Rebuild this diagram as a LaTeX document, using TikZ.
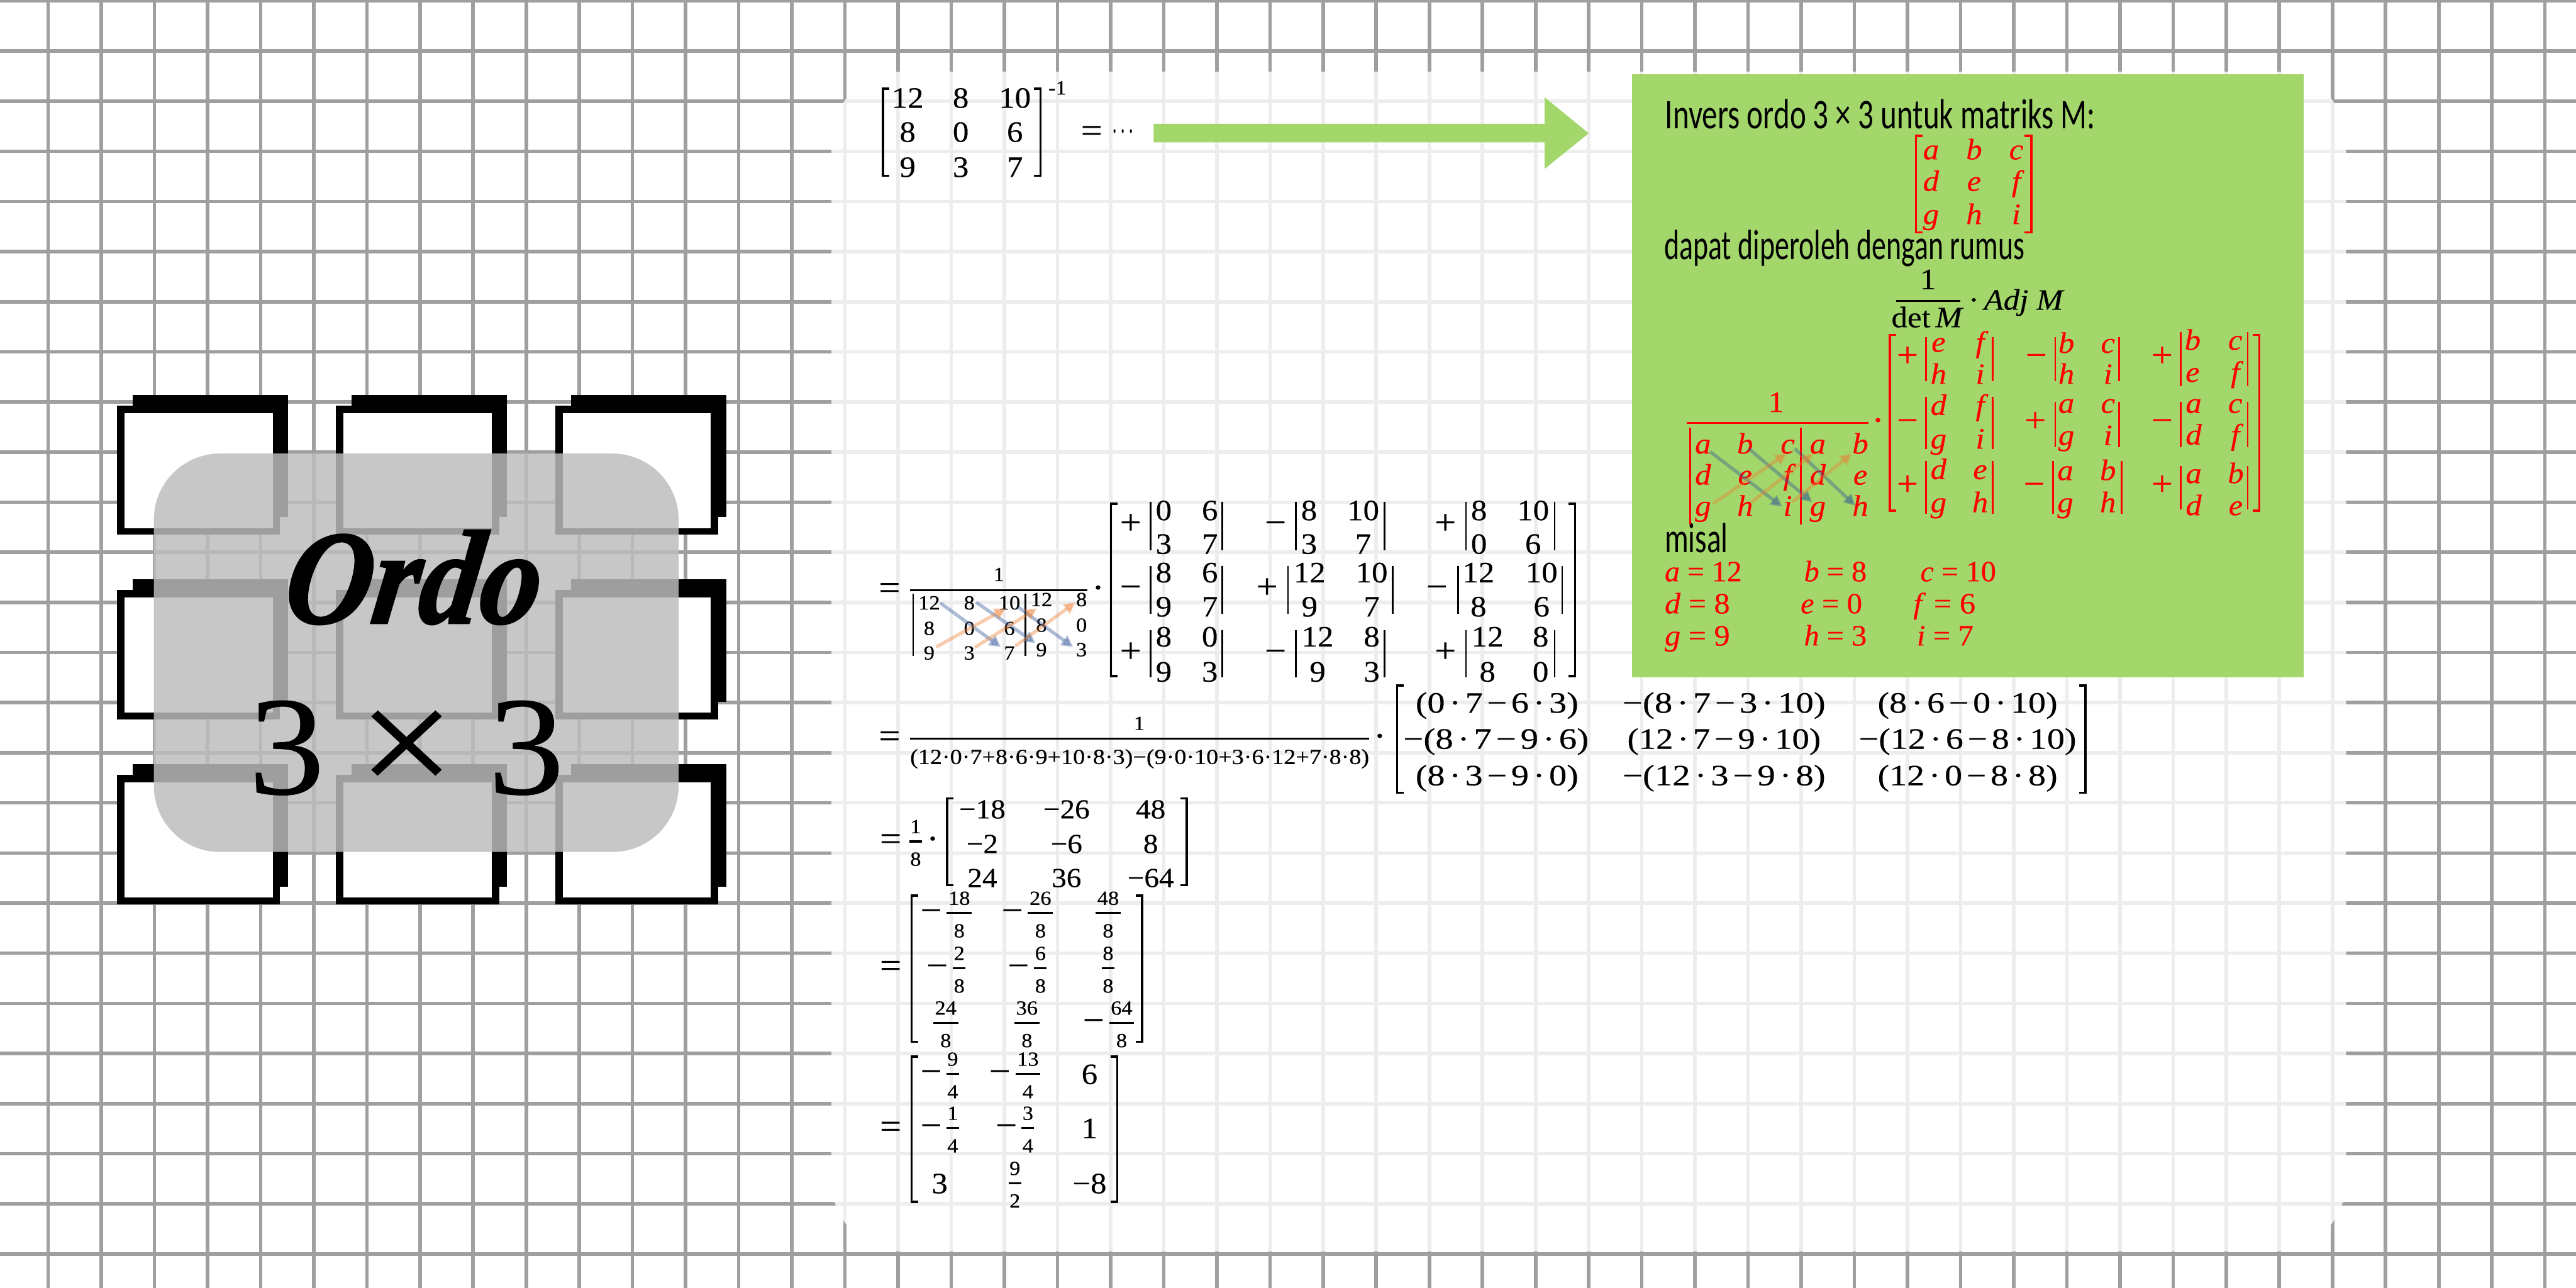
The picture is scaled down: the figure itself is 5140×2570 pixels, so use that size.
\documentclass[tikz,border=0pt]{standalone}
\usepackage{fontspec}
\usepackage{graphicx}
\usetikzlibrary{arrows.meta}
\setmainfont[FakeStretch=1.08,FakeBold=0.35]{Liberation Serif}
\newfontfamily\handf{Carlito}
\newfontface\ordof[FakeSlant=0.15,FakeBold=1.5]{Liberation Serif Bold Italic}
\newdimen\pxu \pxu=.28453pt
\newcommand\fa{\fontsize{16.8}{20}\selectfont}
\newcommand\fb{\fontsize{11.4}{14}\selectfont}
\newcommand\fc{\fontsize{12.2}{15}\selectfont}
\newcommand\fd{\fontsize{15.6}{18}\selectfont}
\newcommand\fh{\fontsize{24}{28}\selectfont}
\newcommand\fs{\fontsize{20}{24}\selectfont}
\newcommand\W[2]{\resizebox{#1\pxu}{\height}{#2}}
\definecolor{gridc}{RGB}{160,158,159}
\definecolor{leaf}{RGB}{163,215,107}
\definecolor{tilec}{RGB}{189,189,189}
\definecolor{abl}{RGB}{47,85,151}
\definecolor{aor}{RGB}{237,125,49}
\newcounter{tn}
% text node: #1 style, #2 x, #3 y, #4 text
\newcommand\T[4][ent]{\stepcounter{tn}\node[#1] (t\arabic{tn}) at (#2,#3) {#4};}
\newcommand\Four[8]{\T{#1}{#3}{#5}\T{#2}{#3}{#6}\T{#1}{#4}{#7}\T{#2}{#4}{#8}}
\newcommand\Row[7]{\T{#2}{#1}{#5}\T{#3}{#1}{#6}\T{#4}{#1}{#7}}
\newcommand\Bars[4]{\draw[barl] (#1,#3) -- (#1,#4) (#2,#3) -- (#2,#4);}
\newcommand\Brk[4]{\draw[brkl] (#1+13,#3) -- (#1,#3) -- (#1,#4) -- (#1+13,#4) (#2-13,#3) -- (#2,#3) -- (#2,#4) -- (#2-13,#4);}
\newcommand\Fr[5]{\T[tB]{#1}{#2-30}{#3}\T[tB]{#1}{#2+35}{#4}\draw[fracl] (#1-#5/2,#2) -- (#1+#5/2,#2);}
\newcommand\SqB[2]{%
  \fill[black] (265+#1,788+#2) rectangle (575+#1,1032+#2);
  \fill[black] (233+#1,809+#2) rectangle (559+#1,1067+#2);
  \fill[white] (248+#1,824+#2) rectangle (544+#1,1053.5+#2);}
\tikzset{
  gridl/.style={gridc,line width=2pt},
  barl/.style={line width=1pt},
  brkl/.style={line width=1.2pt},
  fracl/.style={line width=1.1pt},
  tA/.style={font=\fa,inner sep=0pt,text height=11.38pt,text depth=0pt},
  tB/.style={font=\fb,inner sep=0pt,text height=7.68pt,text depth=0pt},
  tD/.style={font=\fd,inner sep=0pt,text height=10.5pt,text depth=0pt},
  sg/.style={font=\fs,inner sep=0pt,text height=10pt,text depth=0pt},
  lf/.style={tA,anchor=west},
  hw/.style={font=\fh\handf,inner sep=0pt,anchor=west},
  ent/.style={tA},
  bar/.style={-{Triangle[length=6.5pt,width=6.5pt]},line width=1.9pt,abl,opacity=.4},
  oar/.style={-{Triangle[length=6.5pt,width=6.5pt]},line width=1.9pt,aor,opacity=.4},
}
\newcommand\dt{\kern.13em·\kern.13em}
\newcommand\mn{\kern.13em−\kern.13em}
\begin{document}
\begin{tikzpicture}[x=.28453pt,y=-.28453pt]
\useasboundingbox (0,0) rectangle (5140,2570);
\fill[white] (0,0) rectangle (5140,2570);
% grid
\foreach \k in {0,...,47} \draw[gridl] ({96+106*\k},0) -- ({96+106*\k},2570);
\foreach \k in {0,...,25} \draw[gridl] (0,{2+100*\k}) -- (5140,{2+100*\k});
% tiles
\foreach \dx in {0,437,874.5} \foreach \dy in {0,368,737} {\SqB{\dx}{\dy}}
\fill[tilec,opacity=.84,rounded corners=132\pxu] (307,905) rectangle (1354,1700);
\node[inner sep=0pt] (ordo) at (816,1152) {\fontsize{76}{84}\selectfont\W{510}{\ordof Ordo}};
\node[inner sep=0pt,font=\fontsize{80}{90}\selectfont,text height=53.5pt,text depth=0pt] (three1) at (572,1490) {3};
\node[inner sep=0pt,font=\fontsize{90}{100}\selectfont] (times) at (811,1503) {×};
\node[inner sep=0pt,font=\fontsize{80}{90}\selectfont,text height=53.5pt,text depth=0pt] (three2) at (1050,1490) {3};
% panel
\fill[white,opacity=.82,rounded corners=140\pxu] (1659,143) rectangle (4681,2497);
% green box and arrow
\fill[leaf] (3256,148) rectangle (4596,1351);
\fill[leaf] (2302,247) -- (3082,247) -- (3082,194) -- (3170,266) -- (3082,337) -- (3082,284) -- (2302,284) -- cycle;
% top matrix
\Brk{1762}{2076}{177}{351}
\Row{195}{1811}{1917}{2025}{12}{8}{10}
\Row{263}{1811}{1917}{2025}{8}{0}{6}
\Row{333}{1811}{1917}{2025}{9}{3}{7}
\T[tB]{2110}{175}{-1}
\T[sg]{2178}{266}{=}
\T[sg]{2241}{263}{\W{44}{$\cdots$}}
% line B
\T[sg]{1775}{1178}{=}
\draw[fracl] (1816,1178) -- (2170,1178);
\T[tB]{1993}{1146}{1}
\Bars{1822}{2046}{1184}{1309}
\Row{1196}{1854}{1934}{2014}{\fb 12}{\fb 8}{\fb 10}
\T[tB]{2078}{1196}{12}\T[tB]{2158}{1196}{8}
\Row{1247}{1854}{1934}{2014}{\fb 8}{\fb 0}{\fb 6}
\T[tB]{2078}{1247}{8}\T[tB]{2158}{1247}{0}
\Row{1296}{1854}{1934}{2014}{\fb 9}{\fb 3}{\fb 7}
\T[tB]{2078}{1296}{9}\T[tB]{2158}{1296}{3}
\draw[bar] (1876,1203) -- (1997,1291);
\draw[bar] (1948,1202) -- (2066,1283);
\draw[bar] (2031,1211) -- (2141,1291);
\draw[oar] (1868,1291) -- (2007,1214);
\draw[oar] (1945,1292) -- (2069,1214);
\draw[oar] (2026,1289) -- (2146,1202);
\T[sg]{2191}{1178}{·}
\Brk{2217}{3143}{1005}{1349}
\T[sg]{2256}{1048}{+}\T[sg]{2256}{1176}{−}\T[sg]{2256}{1304}{+}
\T[sg]{2545}{1048}{−}\T[sg]{2528}{1176}{+}\T[sg]{2545}{1304}{−}
\T[sg]{2884}{1048}{+}\T[sg]{2867}{1176}{−}\T[sg]{2884}{1304}{+}
\Bars{2296}{2439}{1001}{1098}\Four{2322}{2414}{1018}{1085}{0}{6}{3}{7}
\Bars{2586}{2763}{1001}{1098}\Four{2612}{2720}{1018}{1085}{8}{10}{3}{7}
\Bars{2925}{3102}{1001}{1098}\Four{2951}{3059}{1018}{1085}{8}{10}{0}{6}
\Bars{2296}{2439}{1129}{1225}\Four{2322}{2414}{1142}{1210}{8}{6}{9}{7}
\Bars{2570}{2779}{1129}{1225}\Four{2613}{2737}{1142}{1210}{12}{10}{9}{7}
\Bars{2909}{3117}{1129}{1225}\Four{2950}{3076}{1142}{1210}{12}{10}{8}{6}
\Bars{2296}{2439}{1257}{1352}\Four{2322}{2414}{1270}{1340}{8}{0}{9}{3}
\Bars{2586}{2763}{1257}{1352}\Four{2629}{2737}{1270}{1340}{12}{8}{9}{3}
\Bars{2925}{3102}{1257}{1352}\Four{2968}{3074}{1270}{1340}{12}{8}{8}{0}
% line C
\T[sg]{1775}{1474}{=}
\draw[fracl] (1816,1474) -- (2732,1474);
\T[tB]{2273}{1443}{1}
\node[inner sep=0pt,font=\fc,text height=8.2pt,text depth=0pt] (cden) at (2274,1510) {\W{916}{(12·0·7+8·6·9+10·8·3)−(9·0·10+3·6·12+7·8·8)}};
\T[sg]{2753}{1474}{·}
\Brk{2788}{4161}{1368}{1582}
\Row{1402}{2987}{3440}{3926}{\W{325}{(0\dt7\mn6\dt3)}}{\W{405}{−(8\dt7\mn3\dt10)}}{\W{359}{(8\dt6\mn0\dt10)}}
\Row{1474}{2985}{3440}{3926}{\W{370}{−(8\dt7\mn9\dt6)}}{\W{386}{(12\dt7\mn9\dt10)}}{\W{434}{−(12\dt6\mn8\dt10)}}
\Row{1547}{2987}{3440}{3926}{\W{325}{(8\dt3\mn9\dt0)}}{\W{405}{−(12\dt3\mn9\dt8)}}{\W{359}{(12\dt0\mn8\dt8)}}
% line D
\T[sg]{1777}{1679}{=}
\Fr{1827}{1679}{1}{8}{25}
\T[sg]{1861}{1679}{·}
\Brk{1890}{2368}{1593}{1766}
\Row{1613}{1960}{2128}{2296}{\fd −18}{\fd −26}{\fd 48}
\Row{1682}{1960}{2128}{2296}{\fd −2}{\fd −6}{\fd 8}
\Row{1750}{1960}{2128}{2296}{\fd 24}{\fd 36}{\fd −64}
% line E
\T[sg]{1777}{1932}{=}
\Brk{1819}{2279}{1787}{2079}
\T[sg]{1858}{1822}{−}\Fr{1914}{1822}{18}{8}{50}
\T[sg]{2020}{1822}{−}\Fr{2076}{1822}{26}{8}{50}
\Fr{2211}{1822}{48}{8}{50}
\T[sg]{1870}{1932}{−}\Fr{1914}{1932}{2}{8}{25}
\T[sg]{2032}{1932}{−}\Fr{2076}{1932}{6}{8}{25}
\Fr{2211}{1932}{8}{8}{25}
\Fr{1887}{2041}{24}{8}{50}
\Fr{2049}{2041}{36}{8}{50}
\T[sg]{2182}{2041}{−}\Fr{2238}{2041}{64}{8}{50}
% line F
\T[sg]{1777}{2253}{=}
\Brk{1819}{2229}{2108}{2398}
\T[sg]{1858}{2143}{−}\Fr{1901}{2143}{9}{4}{25}
\T[sg]{1995}{2143}{−}\Fr{2051}{2143}{13}{4}{50}
\T{2174}{2143}{6}
\T[sg]{1858}{2251}{−}\Fr{1901}{2251}{1}{4}{25}
\T[sg]{2008}{2251}{−}\Fr{2051}{2251}{3}{4}{25}
\T{2174}{2251}{1}
\T{1875}{2361}{3}
\Fr{2025}{2361}{9}{2}{25}
\T{2174}{2361}{−8}
% green box text
\node[hw] (h1) at (3322,228) {\W{858}{Invers ordo 3 × 3 untuk matriks M:}};
\node[hw] (h2) at (3320,495) {\W{719}{dapat diperoleh dengan rumus}};
\node[hw] (h3) at (3321,1073) {\W{126}{misal}};
\draw[fracl] (3783,601) -- (3912,601);
\T[tA]{3847}{557}{1}
\T[tA]{3846}{633}{det\,\textit{M}}
\node[lf] (adj) at (3927,598) {·\,\textit{Adj M}};
\begin{scope}[red,ent/.style={tA,font=\fa\itshape}]
\Brk{3823}{4053}{271}{464}
\Row{298}{3853}{3939}{4023}{a}{b}{c}
\Row{361}{3853}{3939}{4023}{d}{e}{f}
\Row{427}{3853}{3939}{4023}{g}{h}{i}
\draw[fracl] (3365,844) -- (3728,844);
\T[tA]{3544}{802}{1}
\T[sg]{3747}{844}{·}
\Bars{3372}{3593}{853}{1047}
\Row{885}{3398}{3482}{3567}{a}{b}{c}\T{3627}{885}{a}\T{3712}{885}{b}
\Row{947}{3398}{3482}{3567}{d}{e}{f}\T{3627}{947}{d}\T{3712}{947}{e}
\Row{1009}{3398}{3482}{3567}{g}{h}{i}\T{3627}{1009}{g}\T{3712}{1009}{h}
\draw[bar] (3412,901) -- (3556,1011);
\draw[bar] (3489,895) -- (3616,1002);
\draw[bar] (3581,895) -- (3702,1009);
\draw[oar] (3418,1005) -- (3565,905);
\draw[oar] (3495,1002) -- (3618,905);
\draw[oar] (3576,1002) -- (3695,905);
\Brk{3771}{4508}{668}{1019}
\T[sg]{3806}{714}{+}\T[sg]{3806}{844}{−}\T[sg]{3806}{971}{+}
\T[sg]{4063}{714}{−}\T[sg]{4061}{844}{+}\T[sg]{4059}{971}{−}
\T[sg]{4314}{714}{+}\T[sg]{4314}{844}{−}\T[sg]{4314}{971}{+}
\Bars{3843}{3976}{672}{760}\Four{3868}{3951}{682}{746}{e}{f}{h}{i}
\Bars{4101}{4228}{672}{760}\Four{4123}{4206}{684}{746}{b}{c}{h}{i}
\Bars{4351}{4485}{662}{770}\Four{4375}{4460}{678}{742}{b}{c}{e}{f}
\Bars{3843}{3976}{792}{896}\Four{3868}{3951}{808}{875}{d}{f}{g}{i}
\Bars{4101}{4228}{802}{892}\Four{4123}{4206}{804}{868}{a}{c}{g}{i}
\Bars{4351}{4485}{802}{892}\Four{4377}{4460}{804}{867}{a}{c}{d}{f}
\Bars{3843}{3976}{920}{1025}\Four{3868}{3951}{936}{1002}{d}{e}{g}{h}
\Bars{4096}{4233}{920}{1025}\Four{4121}{4206}{938}{1002}{a}{b}{g}{h}
\Bars{4351}{4485}{930}{1017}\Four{4377}{4461}{944}{1008}{a}{b}{d}{e}
\node[lf] (m1) at (3321,1140) {\W{154}{\textit{a} = 12}};
\node[lf] (m2) at (3599,1140) {\W{125}{\textit{b} = 8}};
\node[lf] (m3) at (3831,1140) {\W{151}{\textit{c} = 10}};
\node[lf] (m4) at (3321,1204) {\W{130}{\textit{d} = 8}};
\node[lf] (m5) at (3592,1204) {\W{123}{\textit{e} = 0}};
\node[lf] (m6) at (3817,1204) {\W{124}{\textit{f} = 6}};
\node[lf] (m7) at (3321,1268) {\W{130}{\textit{g} = 9}};
\node[lf] (m8) at (3599,1268) {\W{125}{\textit{h} = 3}};
\node[lf] (m9) at (3824,1268) {\W{113}{\textit{i} = 7}};
\end{scope}
\end{tikzpicture}
\end{document}
